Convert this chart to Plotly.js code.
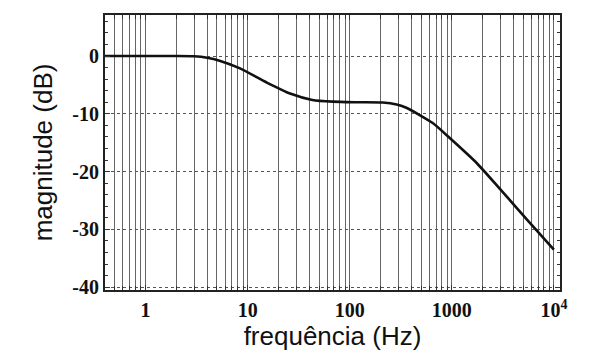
<!DOCTYPE html>
<html><head><meta charset="utf-8">
<script src="https://cdn.plot.ly/plotly-3.0.1.min.js"></script>
<style>html,body{margin:0;padding:0;background:#fff}#c{width:599px;height:363px}</style>
</head><body><div id="c"></div>
<script>
const freq = [0.4, 1, 2, 3, 4, 5.3, 8.3, 15.4, 26, 43, 68, 120, 210, 288, 363, 650, 955, 1770, 2960, 5450, 10000];
const mag  = [0, 0, 0, -0.05, -0.3, -0.8, -2.1, -4.6, -6.5, -7.6, -7.9, -8.0, -8.05, -8.4, -9.0, -11.6, -14.2, -18.6, -23.0, -28.3, -33.5];
const majorFreqs = [1, 10, 100, 1000, 10000];
const majorLabels = ['1', '10', '100', '1000', '10<sup>4</sup>'];
const yTicks = [0, -10, -20, -30, -40];
const yLabels = ['0', '-10', '-20', '-30', '-40'];

const minorFreqs = [];
for (let d = -1; d <= 4; d++) {
  for (let m = 2; m <= 9; m++) {
    const v = m * Math.pow(10, d);
    if (v < 0.4 || v > 11500) continue;
    minorFreqs.push(v);
  }
}

const tickFont = {family: 'Liberation Serif, serif', size: 20, color: '#111', weight: 'bold'};
const titleFont = {family: 'Liberation Sans, Arial, sans-serif', size: 26, color: '#111'};

Plotly.newPlot('c', [{
  x: freq, y: mag, type: 'scatter', mode: 'lines',
  line: {color: '#111', width: 2.6, shape: 'spline', smoothing: 0.6},
  hoverinfo: 'skip'
}], {
  width: 599, height: 363,
  margin: {l: 105, r: 39, t: 15, b: 73},
  paper_bgcolor: '#fff', plot_bgcolor: '#fff',
  showlegend: false,
  xaxis: {
    type: 'log', range: [Math.log10(0.4), 4.06],
    tickmode: 'array', tickvals: majorFreqs, ticktext: majorLabels,
    ticks: 'inside', ticklen: 5, tickcolor: '#333',
    minor: {tickmode: 'array', tickvals: minorFreqs, ticks: 'inside', ticklen: 4, tickcolor: '#333',
            showgrid: true, gridcolor: '#666', gridwidth: 1},
    showgrid: true, gridcolor: '#666', gridwidth: 1,
    showline: true, linecolor: '#222', linewidth: 2, mirror: 'ticks',
    zeroline: false, tickfont: tickFont, ticklabelstandoff: 1,
    title: {text: 'frequência (Hz)', font: titleFont, standoff: 2}
  },
  yaxis: {
    range: [-40.5, 7.1],
    tickmode: 'array', tickvals: yTicks, ticktext: yLabels,
    ticks: 'inside', ticklen: 5, tickcolor: '#333',
    minor: {dtick: 2, ticks: 'inside', ticklen: 3, tickcolor: '#333', showgrid: false},
    showgrid: true, gridcolor: '#555', gridwidth: 1, griddash: 'dot',
    showline: true, linecolor: '#222', linewidth: 2, mirror: 'ticks',
    zeroline: false, tickfont: tickFont,
    title: {text: 'magnitude (dB)', font: titleFont, standoff: 12}
  }
}, {staticPlot: true, displayModeBar: false});
</script></body></html>
